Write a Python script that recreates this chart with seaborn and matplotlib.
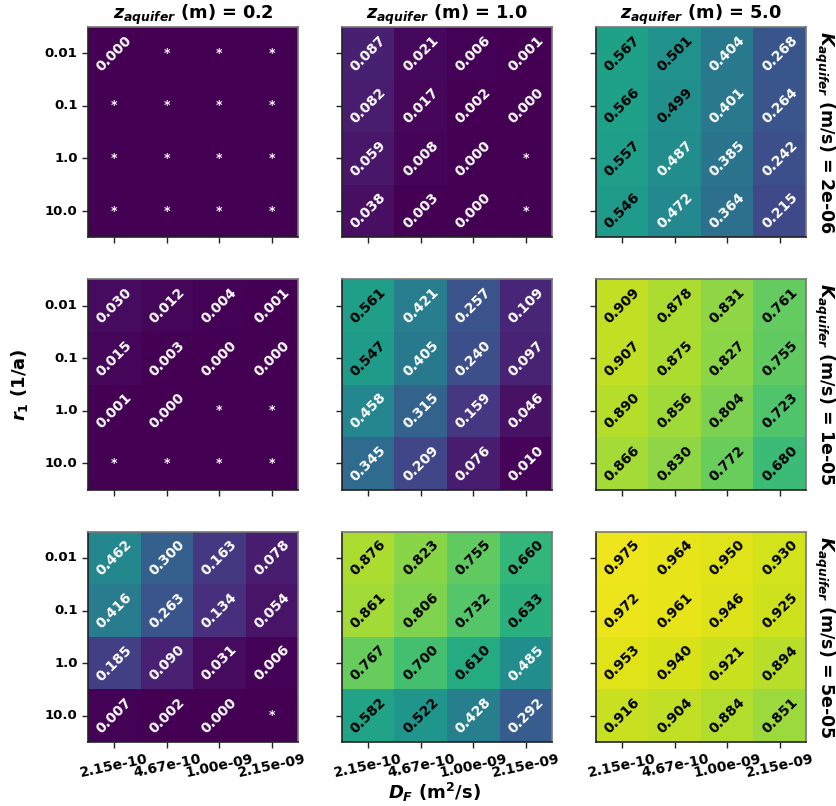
import numpy as np
import pandas as pd
import matplotlib
matplotlib.use("Agg")
import matplotlib.pyplot as plt
import seaborn as sns

sns.set_style("white")
plt.rcParams['font.family'] = ['DejaVu Sans']
plt.rcParams['font.weight'] = 'bold'
plt.rcParams['text.color'] = 'black'
plt.rcParams['axes.labelcolor'] = 'black'
plt.rcParams['xtick.color'] = 'black'
plt.rcParams['ytick.color'] = 'black'
plt.rcParams['mathtext.fontset'] = 'custom'
plt.rcParams['mathtext.it'] = 'DejaVu Sans:italic:bold'
plt.rcParams['mathtext.rm'] = 'DejaVu Sans:bold'
plt.rcParams['mathtext.bf'] = 'DejaVu Sans:bold'

# ---- data -----------------------------------------------------------
z_aquifer = ["0.2", "1.0", "5.0"]
k_aquifer = ["2e-06", "1e-05", "5e-05"]
r1_labels = ["0.01", "0.1", "1.0", "10.0"]
df_labels = ["2.15e-10", "4.67e-10", "1.00e-09", "2.15e-09"]

nan = np.nan  # shown as '*'
# row K=2e-06
k1_z02 = [[0.000, nan, nan, nan],
          [nan, nan, nan, nan],
          [nan, nan, nan, nan],
          [nan, nan, nan, nan]]
k1_z10 = [[0.087, 0.021, 0.006, 0.001],
          [0.082, 0.017, 0.002, 0.000],
          [0.059, 0.008, 0.000, nan],
          [0.038, 0.003, 0.000, nan]]
k1_z50 = [[0.567, 0.501, 0.404, 0.268],
          [0.566, 0.499, 0.401, 0.264],
          [0.557, 0.487, 0.385, 0.242],
          [0.546, 0.472, 0.364, 0.215]]
# row K=1e-05
k2_z02 = [[0.030, 0.012, 0.004, 0.001],
          [0.015, 0.003, 0.000, 0.000],
          [0.001, 0.000, nan, nan],
          [nan, nan, nan, nan]]
k2_z10 = [[0.561, 0.421, 0.257, 0.109],
          [0.547, 0.405, 0.240, 0.097],
          [0.458, 0.315, 0.159, 0.046],
          [0.345, 0.209, 0.076, 0.010]]
k2_z50 = [[0.909, 0.878, 0.831, 0.761],
          [0.907, 0.875, 0.827, 0.755],
          [0.890, 0.856, 0.804, 0.723],
          [0.866, 0.830, 0.772, 0.680]]
# row K=5e-05
k3_z02 = [[0.462, 0.300, 0.163, 0.078],
          [0.416, 0.263, 0.134, 0.054],
          [0.185, 0.090, 0.031, 0.006],
          [0.007, 0.002, 0.000, nan]]
k3_z10 = [[0.876, 0.823, 0.755, 0.660],
          [0.861, 0.806, 0.732, 0.633],
          [0.767, 0.700, 0.610, 0.485],
          [0.582, 0.522, 0.428, 0.292]]
k3_z50 = [[0.975, 0.964, 0.950, 0.930],
          [0.972, 0.961, 0.946, 0.925],
          [0.953, 0.940, 0.921, 0.894],
          [0.916, 0.904, 0.884, 0.851]]

panels = [[k1_z02, k1_z10, k1_z50],
          [k2_z02, k2_z10, k2_z50],
          [k3_z02, k3_z10, k3_z50]]

# ---- figure ---------------------------------------------------------
fig, axes = plt.subplots(3, 3, figsize=(8.36, 8.06), dpi=100)
fig.subplots_adjust(left=88/836, right=806/836, top=1-27/806, bottom=1-742/806,
                    wspace=0.2095, hspace=0.2)

cmap = plt.get_cmap("viridis")
for i in range(3):
    for j in range(3):
        ax = axes[i, j]
        vals = np.array(panels[i][j], dtype=float)
        labels = np.where(np.isnan(vals), "*",
                          np.vectorize(lambda v: f"{v:.3f}")(np.nan_to_num(vals)))
        frame = pd.DataFrame(np.nan_to_num(vals, nan=0.0), index=r1_labels, columns=df_labels)
        sns.heatmap(frame, ax=ax, cmap=cmap, vmin=0, vmax=1, cbar=False,
                    annot=labels, fmt="",
                    annot_kws={"rotation": 45, "fontsize": 10, "fontweight": "bold"})
        flat = np.nan_to_num(vals, nan=0.0).ravel()
        for t, v in zip(ax.texts, flat):
            t.set_color("black" if v > 0.49 else "white")
            if t.get_text() == "*":
                t.set_rotation(0)
                t.set_fontsize(9)
        for side in ["left", "bottom"]:
            ax.spines[side].set_visible(True)
            ax.spines[side].set_color("#222222")
            ax.spines[side].set_linewidth(1.2)
        for side in ["top", "right"]:
            ax.spines[side].set_visible(True)
            ax.spines[side].set_color("#777777")
            ax.spines[side].set_linewidth(1.2)
        ax.tick_params(axis="both", which="both", length=4, width=1, color="#222222",
                       bottom=True, left=True, labelsize=9.5)
        ax.tick_params(axis="x", pad=3)
        ax.set_xlabel("")
        ax.set_ylabel("")
        if j == 0:
            ax.set_yticklabels(r1_labels, rotation=0, fontweight="bold", fontsize=9.5)
        else:
            ax.set_yticklabels([])
        if i == 2:
            ax.set_xticklabels(df_labels, rotation=12, ha="center", fontweight="bold", fontsize=10)
        else:
            ax.set_xticklabels([])
        if i == 0:
            ax.set_title(f"$z_{{aquifer}}$ (m) = {z_aquifer[j]}", fontsize=12.8,
                         fontweight="bold", pad=5)
        if j == 2:
            ax.text(1.03, 0.5, f"$K_{{aquifer}}$ (m/s) = {k_aquifer[i]}",
                    transform=ax.transAxes, rotation=-90, ha="left", va="center",
                    fontsize=12.5, fontweight="bold")

fig.text(19/836, 1 - 385/806, "$r_1$ (1/a)", rotation=90,
         ha="center", va="center", fontsize=13, fontweight="bold")
fig.text(434/836, 1 - 792/806, "$D_F$ (m$^2$/s)", ha="center", va="center",
         fontsize=13, fontweight="bold")

fig.savefig("out.png", dpi=100)
